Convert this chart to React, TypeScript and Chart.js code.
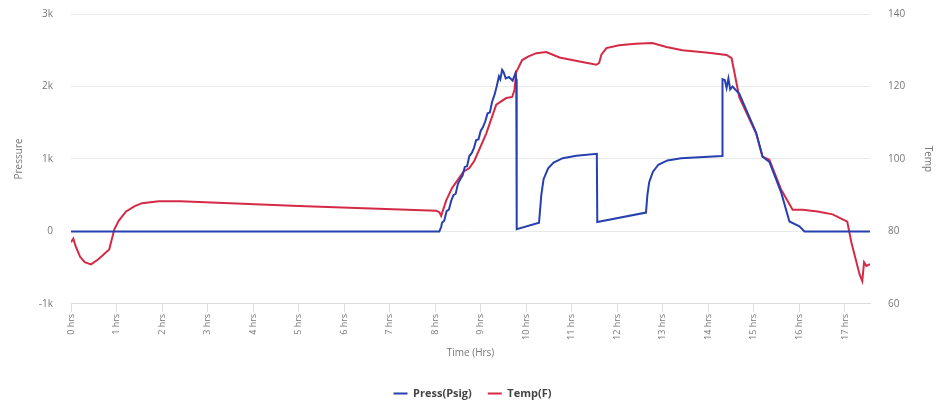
import React, { useEffect, useRef } from 'react';
import { Chart, registerables } from 'chart.js';

Chart.register(...registerables);

const hourTicks = [0, 1, 2, 3, 4, 5, 6, 7, 8, 9, 10, 11, 12, 13, 14, 15, 16, 17];
const pressureTicks = [-1000, 0, 1000, 2000, 3000];
const tempTicks = [60, 80, 100, 120, 140];

const pressHours = [
  0, 8.09, 8.13, 8.15, 8.2, 8.25, 8.3, 8.35, 8.4, 8.45, 8.5, 8.55, 8.6, 8.65, 8.7, 8.75, 8.8, 8.85, 8.9, 8.95,
  9.0, 9.05, 9.1, 9.15, 9.2, 9.25, 9.3, 9.35, 9.4, 9.43, 9.47, 9.5, 9.55, 9.62, 9.7, 9.76, 9.78, 9.79, 10.28, 10.33,
  10.38, 10.48, 10.6, 10.8, 11.1, 11.55, 11.56, 12.63, 12.66, 12.7, 12.78, 12.9, 13.1, 13.4, 14.3, 14.31, 14.36, 14.4, 14.44, 14.48,
  14.53, 14.68, 15.05, 15.19, 15.34, 15.6, 15.78, 16.0, 16.11, 17.55,
];
const pressValues = [
  0, 0, 60, 120, 150, 280, 300, 420, 500, 520, 660, 720, 770, 890, 900, 1040, 1080, 1150, 1260, 1270,
  1390, 1440, 1520, 1630, 1640, 1790, 1880, 2000, 2140, 2100, 2230, 2200, 2110, 2130, 2080, 2180, 2100, 30, 120, 500,
  720, 870, 950, 1010, 1045, 1070, 130, 260, 500, 680, 820, 920, 980, 1010, 1040, 2100, 2090, 1980, 2110, 1960,
  2000, 1900, 1360, 1030, 960, 535, 137, 70, 0, 0,
];

const tempHours = [
  0, 0.05, 0.1, 0.2, 0.3, 0.44, 0.6, 0.84, 0.95, 1.05, 1.21, 1.4, 1.56, 1.93, 2.4, 5.0, 8.02, 8.09, 8.13, 8.24,
  8.37, 8.5, 8.62, 8.75, 8.86, 9.12, 9.34, 9.56, 9.69, 9.74, 9.78, 9.91, 10.05, 10.22, 10.44, 10.73, 11.2, 11.54, 11.6, 11.65,
  11.76, 12.04, 12.4, 12.77, 13.08, 13.43, 14.0, 14.4, 14.51, 14.68, 15.05, 15.19, 15.34, 15.6, 15.85, 16.07, 16.4, 16.73, 17.05, 17.14,
  17.32, 17.38, 17.42, 17.47, 17.55,
];
const tempValues = [
  77, 78, 76, 73, 71.5, 70.9, 72.3, 75, 80.5, 83, 85.5, 87, 87.8, 88.3, 88.3, 87, 85.7, 85.3, 84.3, 88.5,
  92, 94.3, 96.5, 97.5, 99.5, 107, 115, 116.8, 117.1, 119, 124, 127.3, 128.3, 129.2, 129.5, 128, 126.8, 126, 126.5, 128.8,
  130.6, 131.4, 131.8, 132, 130.9, 130, 129.3, 128.7, 127.8, 117, 107, 100.6, 99.8, 91.5, 86, 86, 85.5, 84.7, 82.7, 77,
  68.2, 66.3, 71.5, 70.5, 71,
];

const FONT = "'Open Sans', sans-serif";
const TICK_COLOR = '#777';
const GRID_COLOR = '#e9e9e9';

export default function App() {
  const ref = useRef<HTMLCanvasElement | null>(null);

  useEffect(() => {
    if (!ref.current) return;
    const pressData = pressHours.map((h, i) => ({ x: h, y: pressValues[i] }));
    const tempData = tempHours.map((h, i) => ({ x: h, y: tempValues[i] }));
    const chart = new Chart(ref.current, {
      type: 'line',
      data: {
        datasets: [
          {
            label: 'Press(Psig)',
            data: pressData,
            yAxisID: 'y',
            borderColor: '#2740b0',
            backgroundColor: '#2740b0',
            borderWidth: 2,
            pointRadius: 0,
            tension: 0,
          },
          {
            label: 'Temp(F)',
            data: tempData,
            yAxisID: 'y1',
            borderColor: '#d42a45',
            backgroundColor: '#d42a45',
            borderWidth: 2,
            pointRadius: 0,
            tension: 0,
          },
        ],
      },
      options: {
        animation: false,
        responsive: false,
        maintainAspectRatio: false,
        layout: { padding: { left: 7, right: 7, top: 14, bottom: 2 } },
        plugins: {
          tooltip: { enabled: false },
          legend: {
            position: 'bottom',
            labels: {
              usePointStyle: true,
              pointStyle: 'line',
              pointStyleWidth: 14,
              font: { family: FONT, size: 11, weight: 'bold' },
              color: '#444',
              padding: 16,
            },
          },
        },
        scales: {
          x: {
            type: 'linear',
            min: 0,
            max: 17.55,
            afterBuildTicks: (scale: any) => {
              scale.ticks = hourTicks.map((v) => ({ value: v }));
            },
            ticks: {
              autoSkip: false,
              maxRotation: 90,
              minRotation: 90,
              font: { family: FONT, size: 9 },
              color: TICK_COLOR,
              padding: 2,
              callback: (v: any) => `${v} hrs`,
            },
            grid: {
              drawOnChartArea: false,
              drawTicks: true,
              tickLength: 8,
              color: '#ddd',
            },
            border: { display: true, color: '#ddd' },
            title: {
              display: true,
              text: 'Time (Hrs)',
              font: { family: FONT, size: 10 },
              color: TICK_COLOR,
              padding: { top: 5, bottom: 13 },
            },
          },
          y: {
            type: 'linear',
            position: 'left',
            min: -1000,
            max: 3000,
            afterBuildTicks: (scale: any) => {
              scale.ticks = pressureTicks.map((v) => ({ value: v }));
            },
            afterFit: (scale: any) => {
              scale.width = 64;
            },
            ticks: {
              font: { family: FONT, size: 10 },
              color: TICK_COLOR,
              padding: 3,
              callback: (v: any) => (v === 0 ? '0' : `${v / 1000}k`),
            },
            grid: { color: GRID_COLOR, drawTicks: true, tickLength: 15, tickColor: 'rgba(0,0,0,0)' },
            border: { display: false },
            title: {
              display: true,
              text: 'Pressure',
              font: { family: FONT, size: 10 },
              color: TICK_COLOR,
              padding: { top: 6, bottom: 4 },
            },
          },
          y1: {
            type: 'linear',
            position: 'right',
            min: 60,
            max: 140,
            afterBuildTicks: (scale: any) => {
              scale.ticks = tempTicks.map((v) => ({ value: v }));
            },
            afterFit: (scale: any) => {
              scale.width = 68;
            },
            ticks: {
              font: { family: FONT, size: 10 },
              color: TICK_COLOR,
              padding: 3,
            },
            grid: { drawOnChartArea: false, drawTicks: true, tickLength: 15, tickColor: 'rgba(0,0,0,0)' },
            border: { display: false },
            title: {
              display: true,
              text: 'Temp',
              font: { family: FONT, size: 10 },
              color: TICK_COLOR,
              padding: { top: 4, bottom: 4 },
            },
          },
        },
      },
    });
    return () => chart.destroy();
  }, []);

  return (
    <div style={{ position: 'absolute', left: 0, top: 0, width: 945, height: 411, background: '#fff' }}>
      <canvas ref={ref} width={945} height={411} style={{ width: 945, height: 411 }} />
    </div>
  );
}
